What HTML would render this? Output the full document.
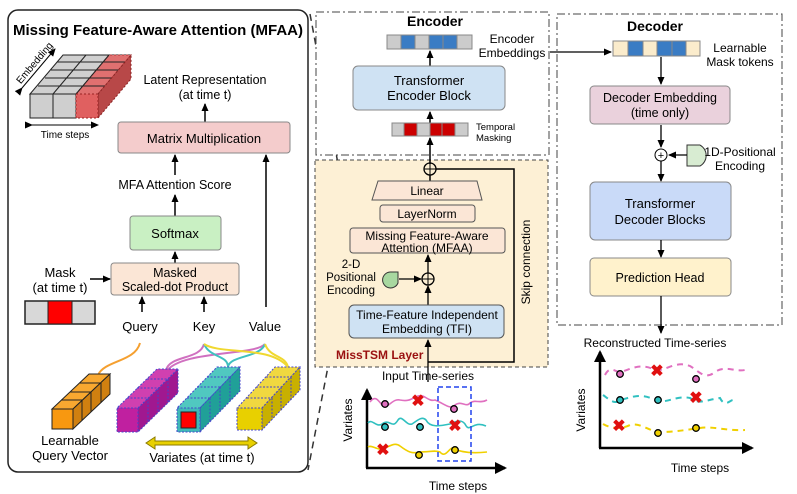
<!DOCTYPE html>
<html><head><meta charset="utf-8"><style>
html,body{margin:0;padding:0;background:#fff;}
svg{display:block;font-family:"Liberation Sans",Arial,sans-serif;}
</style></head><body>
<svg width="797" height="494" viewBox="0 0 797 494" xmlns="http://www.w3.org/2000/svg">
<defs>
<marker id="ar" markerWidth="8" markerHeight="8" refX="7" refY="4" orient="auto" markerUnits="userSpaceOnUse"><path d="M0,0.5 L8,4 L0,7.5 z" fill="#000"/></marker>
<marker id="ars" markerWidth="12" markerHeight="12" refX="10" refY="6" orient="auto" markerUnits="userSpaceOnUse"><path d="M0,0 L12,6 L0,12 z" fill="#000"/></marker>
</defs>
<!-- Left panel -->
<rect x="8" y="10" width="300" height="462" rx="10" fill="#fff" stroke="#222" stroke-width="1.5"/>
<text x="158" y="35" font-size="15" font-weight="bold" text-anchor="middle">Missing Feature-Aware Attention (MFAA)</text>
<!-- cube grid -->
<polygon points="30,94 98,94 131,55 63,55" fill="#d0d0d0" stroke="#222"/>
<polygon points="76,94 98,94 131,55 109,55" fill="#e07070" stroke="#a33" stroke-dasharray="2,2"/>
<g stroke="#222" fill="none">
<line x1="53" y1="94" x2="86" y2="55"/><line x1="76" y1="94" x2="109" y2="55"/>
<line x1="38" y1="86" x2="106" y2="86"/><line x1="45" y1="78" x2="113" y2="78"/><line x1="51" y1="70" x2="119" y2="70"/><line x1="57" y1="62" x2="125" y2="62"/>
</g>
<polygon points="98,94 131,55 131,79 98,118" fill="#b84848" stroke="#822" stroke-dasharray="2,2"/>
<rect x="30" y="94" width="23" height="24" fill="#cfcfcf" stroke="#222"/>
<rect x="53" y="94" width="23" height="24" fill="#cfcfcf" stroke="#222"/>
<rect x="76" y="94" width="22" height="24" fill="#e06060" stroke="#922" stroke-dasharray="2,2"/>
<line x1="22" y1="88" x2="55" y2="49" stroke="#000" marker-end="url(#ar)" marker-start="url(#ar)"/>
<text x="37" y="65" font-size="10" transform="rotate(-50 37 65)" text-anchor="middle">Embedding</text>
<line x1="32" y1="125" x2="98" y2="125" stroke="#000" marker-end="url(#ar)" marker-start="url(#ar)"/>
<text x="65" y="138" font-size="10" text-anchor="middle">Time steps</text>
<text x="205" y="84" font-size="12.5" text-anchor="middle">Latent Representation</text>
<text x="205" y="99" font-size="12.5" text-anchor="middle">(at time t)</text>
<line x1="205" y1="122" x2="205" y2="104" stroke="#000" stroke-width="1.5" marker-end="url(#ar)"/>
<rect x="118" y="122" width="172" height="31" rx="3" fill="#f4cccc" stroke="#888"/>
<text x="204" y="143" font-size="13" text-anchor="middle">Matrix Multiplication</text>
<line x1="175" y1="175" x2="175" y2="155" stroke="#000" stroke-width="1.5" marker-end="url(#ar)"/>
<text x="175" y="189" font-size="12.5" text-anchor="middle">MFA Attention Score</text>
<line x1="175" y1="216" x2="175" y2="195" stroke="#000" stroke-width="1.5" marker-end="url(#ar)"/>
<rect x="130" y="216" width="91" height="34" rx="3" fill="#c9f0c3" stroke="#888"/>
<text x="175" y="238" font-size="13" text-anchor="middle">Softmax</text>
<line x1="266" y1="307" x2="266" y2="155" stroke="#000" stroke-width="1.5" marker-end="url(#ar)"/>
<line x1="175" y1="263" x2="175" y2="252" stroke="#000" stroke-width="1.5" marker-end="url(#ar)"/>
<rect x="111" y="263" width="128" height="32" rx="3" fill="#fbe6d6" stroke="#888"/>
<text x="175" y="277" font-size="12.5" text-anchor="middle">Masked</text>
<text x="175" y="291" font-size="12.5" text-anchor="middle">Scaled-dot Product</text>
<text x="60" y="277" font-size="13" text-anchor="middle">Mask</text>
<text x="60" y="292" font-size="13" text-anchor="middle">(at time t)</text>
<line x1="90" y1="279" x2="110" y2="279" stroke="#000" stroke-width="1.5" marker-end="url(#ar)"/>
<rect x="25" y="301" width="70" height="23" fill="#d8d8d8" stroke="#222" stroke-width="1.5"/>
<rect x="48" y="301" width="24" height="23" fill="#f00" stroke="#222" stroke-width="1"/>
<line x1="142" y1="312" x2="142" y2="297" stroke="#000" stroke-width="1.5" marker-end="url(#ar)"/>
<line x1="204" y1="312" x2="204" y2="297" stroke="#000" stroke-width="1.5" marker-end="url(#ar)"/>
<text x="140" y="331" font-size="13" text-anchor="middle">Query</text>
<text x="204" y="331" font-size="13" text-anchor="middle">Key</text>
<text x="265" y="331" font-size="13" text-anchor="middle">Value</text>
<!-- curves -->
<path d="M140,343 C135,362 105,360 98,375" stroke="#f5a030" stroke-width="2" fill="none"/>
<path d="M204,344 C200,360 170,355 166,370" stroke="#d070c0" stroke-width="2" fill="none"/>
<path d="M265,344 C255,356 180,350 166,372" stroke="#d070c0" stroke-width="2" fill="none"/>
<path d="M204,344 C210,358 228,355 228,367" stroke="#40c0c0" stroke-width="2" fill="none"/>
<path d="M265,344 C260,358 230,355 228,367" stroke="#40c0c0" stroke-width="2" fill="none"/>
<path d="M204,344 C220,355 270,345 288,367" stroke="#f0d830" stroke-width="2" fill="none"/>
<path d="M265,344 C270,358 285,355 288,367" stroke="#f0d830" stroke-width="2" fill="none"/>
<!-- orange -->
<polygon points="52,409 73,409 110,374 89,374" fill="#f8a830" stroke="#222"/>
<polygon points="73,409 110,374 110,394 73,429" fill="#d08010" stroke="#222"/>
<g stroke="#222"><line x1="61" y1="400" x2="82" y2="400"/><line x1="70" y1="392" x2="91" y2="392"/><line x1="80" y1="383" x2="101" y2="383"/>
<line x1="82" y1="400" x2="82" y2="420"/><line x1="91" y1="392" x2="91" y2="412"/><line x1="101" y1="383" x2="101" y2="403"/></g>
<rect x="52" y="409" width="21" height="20" fill="#f89810" stroke="#222"/>
<!-- magenta -->
<polygon points="117,408 138,408 178,369 157,369" fill="#d040b0" stroke="#44c" stroke-dasharray="2,1.5"/>
<polygon points="138,408 178,369 178,393 138,432" fill="#a01890" stroke="#44c" stroke-dasharray="2,1.5"/>
<g stroke="#44c" stroke-dasharray="2,1.5"><line x1="127" y1="398" x2="148" y2="398"/><line x1="137" y1="388" x2="158" y2="388"/><line x1="147" y1="379" x2="168" y2="379"/>
<line x1="148" y1="398" x2="148" y2="422"/><line x1="158" y1="388" x2="158" y2="412"/><line x1="168" y1="379" x2="168" y2="403"/></g>
<rect x="117" y="408" width="21" height="24" fill="#c020a0" stroke="#44c" stroke-dasharray="2,1.5"/>
<!-- teal -->
<polygon points="177,408 200,408 240,367 217,367" fill="#50c8c0" stroke="#44c" stroke-dasharray="2,1.5"/>
<polygon points="200,408 240,367 240,391 200,432" fill="#20a098" stroke="#44c" stroke-dasharray="2,1.5"/>
<g stroke="#44c" stroke-dasharray="2,1.5"><line x1="187" y1="398" x2="210" y2="398"/><line x1="197" y1="387" x2="220" y2="387"/><line x1="207" y1="377" x2="230" y2="377"/>
<line x1="210" y1="398" x2="210" y2="422"/><line x1="220" y1="387" x2="220" y2="411"/><line x1="230" y1="377" x2="230" y2="401"/></g>
<rect x="177" y="408" width="23" height="24" fill="#40b8b8" stroke="#44c" stroke-dasharray="2,1.5"/>
<rect x="181" y="412" width="15" height="16" fill="#f00" stroke="#222"/>
<!-- yellow -->
<polygon points="237,408 262,408 300,367 275,367" fill="#f0d840" stroke="#44c" stroke-dasharray="2,1.5"/>
<polygon points="262,408 300,367 300,390 262,430" fill="#c8b000" stroke="#44c" stroke-dasharray="2,1.5"/>
<g stroke="#44c" stroke-dasharray="2,1.5"><line x1="247" y1="398" x2="272" y2="398"/><line x1="256" y1="387" x2="281" y2="387"/><line x1="266" y1="377" x2="291" y2="377"/>
<line x1="272" y1="398" x2="272" y2="420"/><line x1="281" y1="387" x2="281" y2="409"/><line x1="291" y1="377" x2="291" y2="399"/></g>
<rect x="237" y="408" width="25" height="22" fill="#e8d000" stroke="#44c" stroke-dasharray="2,1.5"/>
<text x="70" y="445" font-size="13" text-anchor="middle">Learnable</text>
<text x="70" y="460" font-size="13" text-anchor="middle">Query Vector</text>
<path d="M146,443 L155,437 L155,441 L248,441 L248,437 L257,443 L248,449 L248,445 L155,445 L155,449 z" fill="#e8d000" stroke="#8a7a00"/>
<text x="202" y="462" font-size="13" text-anchor="middle">Variates (at time t)</text>
<!-- diagonal dashed -->
<line x1="310" y1="14" x2="350" y2="228" stroke="#333" stroke-width="1.5" stroke-dasharray="7,5"/>
<line x1="350" y1="253" x2="308" y2="470" stroke="#333" stroke-width="1.5" stroke-dasharray="7,5"/>
<!-- Encoder -->
<rect x="316" y="12" width="233" height="143" fill="#fff" stroke="#444" stroke-dasharray="8,3,2,3"/>
<text x="435" y="26" font-size="14" font-weight="bold" text-anchor="middle">Encoder</text>
<g stroke="#888"><rect x="387" y="35" width="14" height="14" fill="#ccc"/><rect x="401" y="35" width="14" height="14" fill="#3a7cc4"/><rect x="415" y="35" width="14" height="14" fill="#ccc"/><rect x="429" y="35" width="14" height="14" fill="#3a7cc4"/><rect x="443" y="35" width="14" height="14" fill="#3a7cc4"/><rect x="457" y="35" width="15" height="14" fill="#ccc"/></g>
<text x="512" y="43" font-size="12" text-anchor="middle">Encoder</text>
<text x="512" y="57" font-size="12" text-anchor="middle">Embeddings</text>
<line x1="430" y1="66" x2="430" y2="51" stroke="#000" stroke-width="1.5" marker-end="url(#ar)"/>
<rect x="353" y="66" width="152" height="44" rx="5" fill="#cfe2f3" stroke="#888"/>
<text x="429" y="85" font-size="13" text-anchor="middle">Transformer</text>
<text x="429" y="100" font-size="13" text-anchor="middle">Encoder Block</text>
<line x1="430" y1="123" x2="430" y2="112" stroke="#000" stroke-width="1.5" marker-end="url(#ar)"/>
<g stroke="#888"><rect x="392" y="123" width="12" height="13" fill="#ccc"/><rect x="404" y="123" width="13" height="13" fill="#c00"/><rect x="417" y="123" width="13" height="13" fill="#ccc"/><rect x="430" y="123" width="12" height="13" fill="#c00"/><rect x="442" y="123" width="13" height="13" fill="#c00"/><rect x="455" y="123" width="13" height="13" fill="#ccc"/></g>
<text x="476" y="130" font-size="9.5">Temporal</text>
<text x="476" y="141" font-size="9.5">Masking</text>
<line x1="550" y1="52" x2="611" y2="52" stroke="#000" stroke-width="1.3" marker-end="url(#ar)"/>
<!-- MissTSM layer -->
<rect x="315" y="160" width="233" height="207" fill="#fdf0d5" stroke="#444" stroke-dasharray="4,3"/>
<line x1="430" y1="164" x2="430" y2="138" stroke="#000" stroke-width="1.5" marker-end="url(#ar)"/>
<circle cx="430" cy="169" r="6" fill="none" stroke="#000" stroke-width="1.3"/>
<line x1="424" y1="169" x2="436" y2="169" stroke="#000"/><line x1="430" y1="163" x2="430" y2="175" stroke="#000"/>
<polyline points="436,169 514,169 514,362 428,362" fill="none" stroke="#000" stroke-width="1.5"/>
<text x="530" y="262" font-size="12" text-anchor="middle" transform="rotate(-90 530 262)">Skip connection</text>
<line x1="430" y1="181" x2="430" y2="175" stroke="#000" stroke-width="1.5"/>
<polygon points="378,181 477,181 482,200 372,200" fill="#fbe6d6" stroke="#555"/>
<text x="427" y="195" font-size="12" text-anchor="middle">Linear</text>
<rect x="380" y="205" width="95" height="17" rx="3" fill="#fbe6d6" stroke="#555"/>
<text x="427" y="218" font-size="12" text-anchor="middle">LayerNorm</text>
<rect x="350" y="228" width="155" height="25" rx="3" fill="#fbe6d6" stroke="#555"/>
<text x="427" y="240" font-size="12" text-anchor="middle">Missing Feature-Aware</text>
<text x="427" y="252" font-size="12" text-anchor="middle">Attention (MFAA)</text>
<line x1="428" y1="273" x2="428" y2="255" stroke="#000" stroke-width="1.3" marker-end="url(#ar)"/>
<circle cx="428" cy="279" r="6" fill="none" stroke="#000" stroke-width="1.3"/>
<line x1="422" y1="279" x2="434" y2="279" stroke="#000"/><line x1="428" y1="273" x2="428" y2="285" stroke="#000"/>
<line x1="428" y1="305" x2="428" y2="286" stroke="#000" stroke-width="1.3" marker-end="url(#ar)"/>
<path d="M398,272 L398,283 A8,8 0 1 1 390,272 z" fill="#a8d8a0" stroke="#333"/>
<line x1="399" y1="279" x2="421" y2="279" stroke="#000" stroke-width="1.3" marker-end="url(#ar)"/>
<text x="351" y="268" font-size="11.5" text-anchor="middle">2-D</text>
<text x="351" y="281" font-size="11.5" text-anchor="middle">Positional</text>
<text x="351" y="294" font-size="11.5" text-anchor="middle">Encoding</text>
<rect x="349" y="305" width="155" height="33" rx="5" fill="#cfe2f3" stroke="#555"/>
<text x="427" y="319" font-size="12" text-anchor="middle">Time-Feature Independent</text>
<text x="427" y="333" font-size="12" text-anchor="middle">Embedding (TFI)</text>
<line x1="428" y1="382" x2="428" y2="340" stroke="#000" stroke-width="1.3" marker-end="url(#ar)"/>
<text x="336" y="359" font-size="12" font-weight="bold" fill="#9a1010">MissTSM Layer</text>
<text x="428" y="380" font-size="12" text-anchor="middle">Input Time-series</text>
<!-- input chart -->
<line x1="367" y1="468" x2="367" y2="390" stroke="#000" stroke-width="2.5" marker-end="url(#ars)"/>
<line x1="366" y1="468" x2="505" y2="468" stroke="#000" stroke-width="2.5" marker-end="url(#ars)"/>
<text x="352" y="420" font-size="12" text-anchor="middle" transform="rotate(-90 352 420)">Variates</text>
<text x="458" y="490" font-size="12" text-anchor="middle">Time steps</text>
<path d="M370,402 C375,395 378,400 382,405 C388,410 392,398 400,400 C410,402 412,398 418,396 C425,394 428,402 435,400 C445,404 450,410 455,405 C462,400 466,408 470,403 C475,399 480,404 487,400" stroke="#e070c0" stroke-width="1.6" fill="none"/>
<path d="M368,423 C372,418 376,428 382,424 C390,418 392,430 398,420 C402,414 406,426 412,424 C418,420 422,416 426,420 C430,428 440,426 450,424 C458,420 462,420 465,424 C470,434 472,420 486,426" stroke="#30c0c0" stroke-width="1.6" fill="none"/>
<path d="M368,447 C372,444 378,452 385,448 C390,446 395,442 400,446 C408,452 412,454 420,452 C430,452 435,450 440,452 C445,458 448,450 452,448 C460,452 470,454 487,452" stroke="#f0d000" stroke-width="1.6" fill="none"/>
<rect x="438" y="387" width="33" height="74" fill="none" stroke="#2244ee" stroke-width="1.5" stroke-dasharray="5,3"/>
<g stroke="#000" stroke-width="1.3"><circle cx="385" cy="404" r="3.3" fill="#e070c0"/><circle cx="454" cy="409" r="3.3" fill="#e070c0"/>
<circle cx="385" cy="427" r="3.3" fill="#30c0c0"/><circle cx="420" cy="427" r="3.3" fill="#30c0c0"/>
<circle cx="419" cy="455" r="3.3" fill="#f0d000"/><circle cx="455" cy="450" r="3.3" fill="#f0d000"/></g>
<g font-size="16" font-weight="bold" fill="#e01010" text-anchor="middle"><text x="418" y="406">✖</text><text x="455" y="431">✖</text><text x="383" y="455">✖</text></g>
<!-- Decoder -->
<rect x="557" y="14" width="225" height="311" fill="none" stroke="#444" stroke-dasharray="8,3,2,3"/>
<text x="655" y="31" font-size="14" font-weight="bold" text-anchor="middle">Decoder</text>
<g stroke="#888"><rect x="613" y="41" width="15" height="15" fill="#fbeccc"/><rect x="628" y="41" width="15" height="15" fill="#3a7cc4"/><rect x="643" y="41" width="14" height="15" fill="#fbeccc"/><rect x="657" y="41" width="15" height="15" fill="#3a7cc4"/><rect x="672" y="41" width="14" height="15" fill="#3a7cc4"/><rect x="686" y="41" width="14" height="15" fill="#fbeccc"/></g>
<text x="740" y="52" font-size="12" text-anchor="middle">Learnable</text>
<text x="740" y="66" font-size="12" text-anchor="middle">Mask tokens</text>
<line x1="661" y1="57" x2="661" y2="84" stroke="#000" stroke-width="1.3" marker-end="url(#ar)"/>
<rect x="590" y="86" width="140" height="38" rx="4" fill="#ead1dc" stroke="#888"/>
<text x="660" y="102" font-size="12.5" text-anchor="middle">Decoder Embedding</text>
<text x="660" y="117" font-size="12.5" text-anchor="middle">(time only)</text>
<line x1="661" y1="125" x2="661" y2="147" stroke="#000" stroke-width="1.3" marker-end="url(#ar)"/>
<circle cx="661" cy="155" r="6" fill="#fff" stroke="#000"/>
<text x="661" y="159" font-size="11" text-anchor="middle">+</text>
<path d="M687,145 L700,145 A12,12 0 0 1 700,166 L687,166 z" fill="#d8ecd2" stroke="#333"/>
<line x1="687" y1="155" x2="669" y2="155" stroke="#000" stroke-width="1.3" marker-end="url(#ar)"/>
<text x="740" y="156" font-size="12" text-anchor="middle">1D-Positional</text>
<text x="740" y="170" font-size="12" text-anchor="middle">Encoding</text>
<line x1="661" y1="161" x2="661" y2="181" stroke="#000" stroke-width="1.3" marker-end="url(#ar)"/>
<rect x="590" y="182" width="141" height="58" rx="5" fill="#c9daf8" stroke="#888"/>
<text x="660" y="208" font-size="13" text-anchor="middle">Transformer</text>
<text x="660" y="224" font-size="13" text-anchor="middle">Decoder Blocks</text>
<line x1="661" y1="240" x2="661" y2="257" stroke="#000" stroke-width="1.3" marker-end="url(#ar)"/>
<rect x="590" y="258" width="141" height="38" rx="4" fill="#fff2cc" stroke="#888"/>
<text x="660" y="282" font-size="12.5" text-anchor="middle">Prediction Head</text>
<line x1="661" y1="296" x2="661" y2="333" stroke="#000" stroke-width="1.3" marker-end="url(#ar)"/>
<text x="655" y="347" font-size="12" text-anchor="middle">Reconstructed Time-series</text>
<line x1="600" y1="448" x2="600" y2="352" stroke="#000" stroke-width="2.5" marker-end="url(#ars)"/>
<line x1="599" y1="448" x2="752" y2="448" stroke="#000" stroke-width="2.5" marker-end="url(#ars)"/>
<text x="585" y="410" font-size="12" text-anchor="middle" transform="rotate(-90 585 410)">Variates</text>
<text x="700" y="472" font-size="12" text-anchor="middle">Time steps</text>
<g fill="none" stroke-width="2" stroke-dasharray="6,5">
<path d="M605,375 C610,365 615,372 620,372 C630,370 640,362 655,370 C665,372 675,360 690,366 C700,372 705,380 715,372 C725,365 735,372 745,370" stroke="#e070c0"/>
<path d="M603,395 C610,400 615,405 620,400 C630,398 640,392 655,400 C665,405 675,395 690,398 C700,405 705,400 720,398 C725,408 730,400 733,400" stroke="#30c0c0"/>
<path d="M603,424 C610,428 620,430 630,425 C640,422 650,432 660,432 C675,432 685,430 700,428 C715,426 725,431 745,430" stroke="#f0d000"/>
</g>
<g stroke="#000" stroke-width="1.3"><circle cx="620" cy="374" r="3.3" fill="#e070c0"/><circle cx="696" cy="379" r="3.3" fill="#e070c0"/>
<circle cx="620" cy="400" r="3.3" fill="#30c0c0"/><circle cx="658" cy="400" r="3.3" fill="#30c0c0"/>
<circle cx="658" cy="433" r="3.3" fill="#f0d000"/><circle cx="696" cy="428" r="3.3" fill="#f0d000"/></g>
<g font-size="16" font-weight="bold" fill="#e01010" text-anchor="middle"><text x="657" y="376">✖</text><text x="696" y="403">✖</text><text x="619" y="431">✖</text></g>
</svg>
</body></html>
